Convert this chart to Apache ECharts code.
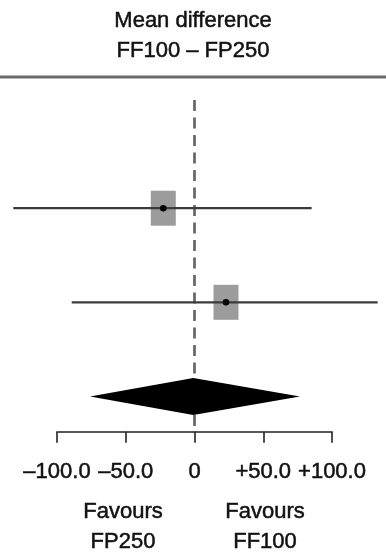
<!DOCTYPE html>
<html><head><meta charset="utf-8">
<script src="https://cdn.jsdelivr.net/npm/echarts@6/dist/echarts.min.js"></script>
<style>html,body{margin:0;padding:0;background:#fff}#c{width:386px;height:553px}</style>
</head><body><div id="c"></div>
<script>
// Study-level mean differences (FF100 − FP250) with 95% CI
const studies = ['Study 1', 'Study 2'];
const studyRows = [1, 2];
const estimates = [-22.7, 22.9];
const lowerCI = [-131.8, -89.3];
const upperCI = [85.2, 133.2];
// Pooled estimate
const pooledRow = 3;
const pooledEstimate = -0.9;
const pooledLower = -76.0;
const pooledUpper = 76.7;
// Axis ticks
const tickValues = [-100, -50, 0, 50, 100];
const tickLabels = ['–100.0', '–50.0', '0', '+50.0', '+100.0'];
const titleLines = ['Mean difference', 'FF100 – FP250'];
const favourLeft = ['Favours', 'FP250'];
const favourRight = ['Favours', 'FF100'];

const FONT = '"Liberation Sans", Arial, Helvetica, sans-serif';
const TXT = '#111';
const chart = echarts.init(document.getElementById('c'), null, { renderer: 'canvas' });

const studyData = studies.map((s, i) => [estimates[i], lowerCI[i], upperCI[i], studyRows[i]]);
const pooledData = [[pooledEstimate, pooledLower, pooledUpper, pooledRow]];

chart.setOption({
  animation: false,
  backgroundColor: '#fff',
  title: {
    text: titleLines.join('\n'),
    left: 'center',
    top: 6,
    padding: 0,
    textStyle: { fontFamily: FONT, fontSize: 22, lineHeight: 30, fontWeight: 'normal', color: TXT, textBorderColor: TXT, textBorderWidth: 0.5 }
  },
  graphic: [
    { type: 'line', shape: { x1: 0, y1: 77, x2: 386, y2: 77 }, style: { stroke: '#6a6a6a', lineWidth: 3 } },
    { type: 'text', x: 123, y: 526.5, style: { text: favourLeft.join('\n'), font: '22px ' + FONT, fill: TXT, stroke: TXT, lineWidth: 0.5, align: 'center', verticalAlign: 'middle', lineHeight: 30 } },
    { type: 'text', x: 265, y: 526.5, style: { text: favourRight.join('\n'), font: '22px ' + FONT, fill: TXT, stroke: TXT, lineWidth: 0.5, align: 'center', verticalAlign: 'middle', lineHeight: 30 } }
  ],
  grid: { left: 57, right: 54, top: 100, bottom: 553 - 431.7 },
  xAxis: {
    type: 'value', min: -100, max: 100, interval: 50,
    splitLine: { show: false },
    axisLine: { show: true, onZero: false, lineStyle: { color: '#222', width: 1.6 } },
    axisTick: { show: true, length: 11, lineStyle: { color: '#222', width: 1.6 } },
    axisLabel: {
      margin: 29, fontFamily: FONT, fontSize: 22, color: TXT, textBorderColor: TXT, textBorderWidth: 0.5,
      formatter: v => { const i = tickValues.indexOf(v); return i >= 0 ? tickLabels[i] : ''; }
    }
  },
  yAxis: { type: 'value', inverse: true, min: -0.15, max: 3.375, show: false },
  series: [
    {
      type: 'custom',
      clip: false,
      data: studyData,
      z: 3,
      renderItem: (params, api) => {
        const y = api.value(3);
        const p = api.coord([api.value(0), y]);
        const l = api.coord([api.value(1), y]);
        const r = api.coord([api.value(2), y]);
        return {
          type: 'group', children: [
            { type: 'rect', shape: { x: p[0] - 12.5, y: p[1] - 17.5, width: 25, height: 35 }, style: { fill: '#9c9c9c' } },
            { type: 'line', shape: { x1: l[0], y1: l[1], x2: r[0], y2: r[1] }, style: { stroke: '#3a3a3a', lineWidth: 2.3 } },
            { type: 'circle', shape: { cx: p[0], cy: p[1], r: 3.3 }, style: { fill: '#000' } }
          ]
        };
      },
      markLine: {
        silent: true, symbol: 'none', z: 1,
        label: { show: false },
        lineStyle: { type: [11, 6.5], color: '#666', width: 2.7 },
        data: [{ xAxis: 0 }]
      }
    },
    {
      type: 'custom',
      clip: false,
      data: pooledData,
      z: 4,
      renderItem: (params, api) => {
        const y = api.value(3);
        const p = api.coord([api.value(0), y]);
        const l = api.coord([api.value(1), y]);
        const r = api.coord([api.value(2), y]);
        return {
          type: 'polygon',
          shape: { points: [[l[0], l[1]], [p[0], p[1] - 18.5], [r[0], r[1]], [p[0], p[1] + 18.5]] },
          style: { fill: '#000' }
        };
      }
    }
  ]
});
</script></body></html>
